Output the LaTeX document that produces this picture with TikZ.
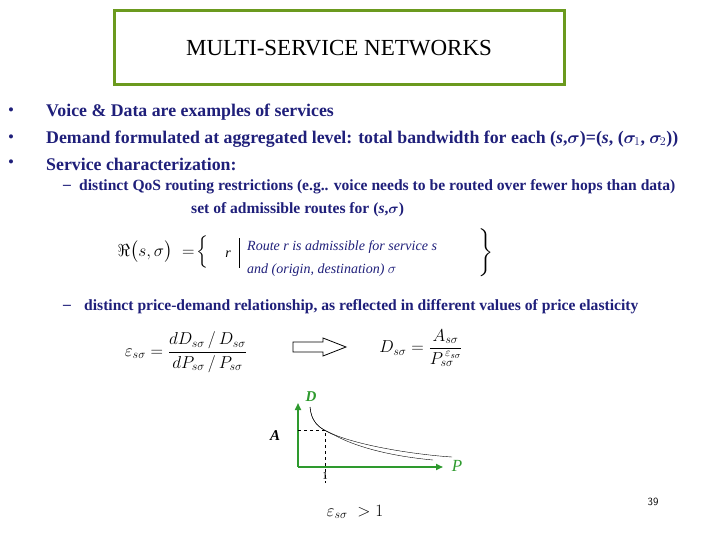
\documentclass[tikz,border=0pt]{standalone}
\usepackage{fontspec}
\setmainfont{Liberation Serif}
\usepackage{amsmath,amssymb}
\usetikzlibrary{arrows.meta}
\definecolor{navy}{HTML}{1F1F7A}
\definecolor{tgreen}{HTML}{6B9A1E}
\definecolor{agreen}{HTML}{2E9A2E}
\tikzset{
 txt/.style={anchor=west,inner sep=0pt,text=navy,font=\bfseries\fontsize{17.8}{20}\selectfont},
 dot/.style={anchor=west,inner sep=0pt,text=navy,font=\fontsize{17}{20}\selectfont},
 sub/.style={anchor=west,inner sep=0pt,text=navy,font=\bfseries\fontsize{15.6}{18}\selectfont},
 eq/.style={inner sep=0pt,font=\fontsize{18}{20}\selectfont},
 axis/.style={agreen,line width=1.6pt,-{Triangle[length=7pt,width=6pt]}},
}
\begin{document}
\begin{tikzpicture}[x=1pt,y=-1pt]
\useasboundingbox (0,0) rectangle (720,540);
\node[draw=tgreen,line width=3pt,minimum width=450,minimum height=74,font=\fontsize{23}{26}\selectfont] (title) at (339,48) {MULTI-SERVICE NETWORKS};
\node[dot] (b1d) at (8,112) {•};
\node[txt] (b1) at (46,112) {Voice \& Data are examples of services};
\node[dot] (b2d) at (8,139) {•};
\node[txt] (b2) at (46,139) {Demand formulated at aggregated level: total bandwidth for each (\textit{s},$\boldsymbol\sigma$)=(\textit{s}, ($\boldsymbol\sigma_{\!1}$, $\boldsymbol\sigma_{\!2}$))};
\node[dot] (b3d) at (8,164) {•};
\node[txt] (b3) at (46,164) {Service characterization:};
\node[sub] (s1d) at (63,187) {--};
\node[sub] (s1) at (79,187) {distinct QoS routing restrictions (e.g.. voice needs to be routed over fewer hops than data)};
\node[sub] (s1b) at (191,210) {set of admissible routes for (\textit{s},$\boldsymbol\sigma$)};
\node[eq] (R) at (163,252) {$\Re\bigl(s,\sigma\bigr)\;=\!\Bigl\{$};
\node[inner sep=0pt,font=\itshape\fontsize{14}{16}\selectfont] (r) at (228,254) {r};
\draw (r.east)++(8,-16) coordinate (v1) -- ++(0,30) coordinate (v2);
\node[anchor=west,inner sep=0pt,align=left,text=navy,font=\itshape\fontsize{14}{23}\selectfont] (rt) at (247,259) {Route r is admissible for service s\\and (origin, destination) $\sigma$};
\node[inner sep=0pt,font=\fontsize{20}{20}\selectfont] (rb) at (485,252) {$\left.\rule{0pt}{30pt}\right\}$};
\node[sub] (s2d) at (63,307) {--};
\node[sub] (s2) at (84,307) {distinct price-demand relationship, as reflected in different values of price elasticity};
\node[eq] (e1) at (186,352) {$\varepsilon_{s\sigma}=\dfrac{dD_{s\sigma}\,/\,D_{s\sigma}}{dP_{s\sigma}\,/\,P_{s\sigma}}$};
\draw[line width=0.8pt] (293,342) -- (323,342) -- (323,338) -- (346,347) -- (323,356) -- (323,352) -- (293,352) -- cycle;
\node[eq] (e2) at (421,348) {$D_{s\sigma}=\dfrac{A_{s\sigma}}{P^{\,\varepsilon_{s\sigma}}_{s\sigma}}$};
% graph
\coordinate (O) at (298,467);
\draw[axis] (O) -- (298,403);
\draw[axis] (O) -- (443,467);
\node[text=agreen,font=\bfseries\itshape\fontsize{15}{16}\selectfont] (D) at (311,397) {D};
\node[text=agreen,font=\itshape\fontsize{17}{18}\selectfont] (P) at (457,466) {P};
\node[font=\bfseries\itshape\fontsize{15}{16}\selectfont] (A) at (275,436) {A};
\node[font=\fontsize{11}{12}\selectfont] (one) at (325,476) {1};
\draw[dashed] (298,430) -- (325,430) -- (325,483);
\draw (310,407) .. controls (312,428) and (325,430) .. (340,438) .. controls (365,450) and (400,457) .. (433,460);
\draw (310,407) .. controls (312,426) and (322,429) .. (335,435) .. controls (365,447) and (420,455) .. (452,457);
\node[eq] (gt) at (355,512) {$\varepsilon_{s\sigma}\;>1$};
\node[font=\sffamily\fontsize{11}{12}\selectfont] (pg) at (653,502) {39};
\end{tikzpicture}
\end{document}
